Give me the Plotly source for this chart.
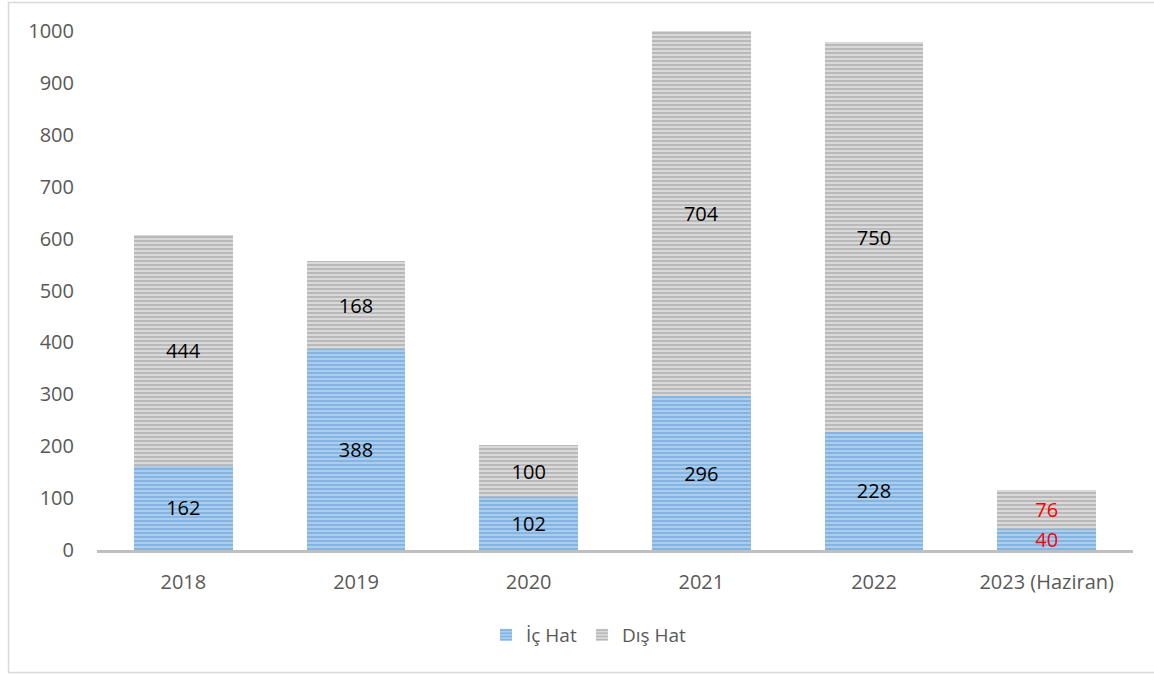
import plotly.graph_objects as go

categories = ["2018", "2019", "2020", "2021", "2022", "2023 (Haziran)"]
ic_hat = [162, 388, 102, 296, 228, 40]
dis_hat = [444, 168, 100, 704, 750, 76]
label_colors = ["black", "black", "black", "black", "black", "red"]
y_ticks = [0, 100, 200, 300, 400, 500, 600, 700, 800, 900, 1000]

FONT = "Open Sans"

fig = go.Figure()
fig.add_trace(go.Bar(
    name="İç Hat", x=categories, y=ic_hat,
    text=[str(v) for v in ic_hat], textposition="inside", textangle=0,
    insidetextanchor="middle", constraintext="none",
    textfont=dict(family=FONT, size=20, color=label_colors),
    marker=dict(color="#9dc3e6", line=dict(width=0),
                pattern=dict(shape="-", fgcolor="#5b9bd5", bgcolor="#aacdee",
                             size=4, solidity=0.5, fillmode="overlay")),
))
fig.add_trace(go.Bar(
    name="Dış Hat", x=categories, y=dis_hat,
    text=[str(v) for v in dis_hat], textposition="inside", textangle=0,
    insidetextanchor="middle", constraintext="none",
    textfont=dict(family=FONT, size=20, color=label_colors),
    marker=dict(color="#bfbfbf", line=dict(width=0),
                pattern=dict(shape="-", fgcolor="#9a9a9a", bgcolor="#d9d9d9",
                             size=4, solidity=0.5, fillmode="overlay")),
))

L, R, T, B = 97, 21, 31, 125
W, H = 1154, 675
pw, ph = W - L - R, H - T - B

fig.update_layout(
    width=W, height=H, barmode="stack", bargap=0.43,
    margin=dict(l=L, r=R, t=T, b=B, pad=0),
    paper_bgcolor="white", plot_bgcolor="white",
    font=dict(family=FONT, size=18, color="#595959"),
    showlegend=True,
    legend=dict(orientation="h", x=(589 - L) / pw, xanchor="center",
                y=(550 - 635) / ph, yanchor="middle",
                font=dict(family=FONT, size=19, color="#595959"),
                traceorder="normal", itemwidth=30),
    xaxis=dict(showgrid=False, showline=True, linecolor="#bfbfbf", linewidth=3,
               ticks="", ticklabelstandoff=12, zeroline=False,
               tickfont=dict(family=FONT, size=20, color="#595959")),
    yaxis=dict(range=[0, 1000], tickvals=y_ticks, showgrid=False,
               showline=False, zeroline=False, ticks="",
               ticklabelstandoff=22,
               tickfont=dict(family=FONT, size=20, color="#595959")),
    shapes=[dict(type="rect", xref="paper", yref="paper",
                 x0=(8.5 - L) / pw, x1=(1170 - L) / pw,
                 y0=(550 - 672.5) / ph, y1=(550 - 2.5) / ph,
                 line=dict(color="#d9d9d9", width=1.5), layer="below")],
)

fig.write_html("out.html", config={"displayModeBar": False},
               post_script="document.body.style.margin='0';")
